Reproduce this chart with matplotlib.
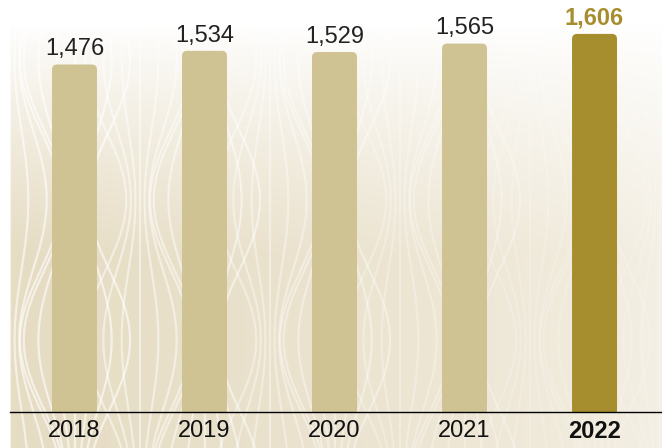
import numpy as np
from matplotlib import pyplot as plt
from matplotlib.patches import FancyBboxPatch

years = ["2018", "2019", "2020", "2021", "2022"]
values = [1476, 1534, 1529, 1565, 1606]
labels = ["1,476", "1,534", "1,529", "1,565", "1,606"]

light = "#d0c393"
dark = "#a68e2e"

fig = plt.figure(figsize=(6.62, 4.48), dpi=100)
W, H = 662, 448

# decorative background: beige fading to white towards the top and the right
bg = fig.add_axes([10 / W, 0, 652 / W, 438 / H], zorder=0)
gy, gx = np.mgrid[0:438, 0:652]
fy = np.clip((gy - 15) / 230.0, 0, 1) ** 0.8
fx = np.clip(1 - gx / 720.0, 0, 1) ** 0.5
a = fy * (0.2 + 0.8 * fx)
img = np.ones((438, 652, 3))
beige = np.array([230, 220, 195]) / 255.0
for c in range(3):
    img[:, :, c] = 1 - a * (1 - beige[c])
bg.imshow(img, extent=(10, 662, 448, 10), aspect="auto", interpolation="bilinear")
yy = np.linspace(10, 448, 300)
for i, cx in enumerate(range(10, 720, 130)):
    for j, shift in enumerate([0, 65]):
        phase = 0 if (i + j) % 2 == 0 else 140
        squeeze = 0.25 + 0.75 * (0.5 + 0.5 * np.cos(2 * np.pi * (yy - 200 - phase) / 280))
        for d in np.linspace(-55, 55, 7):
            bg.plot(cx + shift + d * squeeze, yy, color="white", lw=1.6,
                    alpha=0.6 * max(0.25, 1 - cx / 750), zorder=1)
bg.set_xlim(10, 662)
bg.set_ylim(448, 10)
bg.axis("off")

# main chart
ax = fig.add_axes([10 / W, 36 / H, 652 / W, 412 / H], zorder=1)
ax.patch.set_alpha(0)
x = np.arange(len(years))
width = 0.346
colors = [light] * 4 + [dark]
for xi, v, col in zip(x, values, colors):
    box = FancyBboxPatch((xi - width / 2, -100), width, v + 100,
                         boxstyle="round,pad=0,rounding_size=0.04",
                         mutation_aspect=540, facecolor=col, edgecolor="none")
    ax.add_patch(box)

for xi, v, lab, col in zip(x, values, labels, colors):
    last = xi == len(years) - 1
    ax.annotate(lab, (xi, v), xytext=(0, 3), textcoords="offset points",
                ha="center", va="bottom", fontsize=17,
                fontweight="bold" if last else "normal",
                color=dark if last else "#222222", family="Liberation Sans")

ax.set_xlim(-0.496, 4.519)
ax.set_ylim(0, 1750)
ax.set_xticks(x)
ax.set_xticklabels(years, fontsize=17, family="Liberation Sans", color="#111111")
ax.get_xticklabels()[-1].set_fontweight("bold")
ax.tick_params(axis="x", length=0, pad=6)
ax.set_yticks([])
for s in ["top", "right", "left"]:
    ax.spines[s].set_visible(False)
ax.spines["bottom"].set_color("black")
ax.spines["bottom"].set_linewidth(1.0)

plt.savefig("out.png", dpi=100)
